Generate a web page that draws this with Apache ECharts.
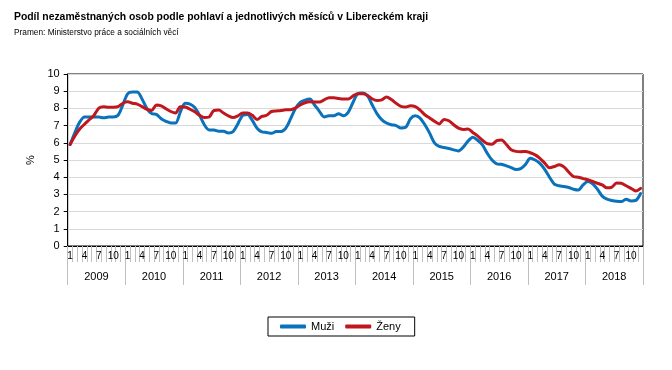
<!DOCTYPE html>
<html>
<head>
<meta charset="utf-8">
<script src="https://cdn.jsdelivr.net/npm/echarts@6/dist/echarts.min.js"></script>
<style>
html,body{margin:0;padding:0;background:#fff;}
#c{width:672px;height:370px;}
</style>
</head>
<body>
<div id="c"></div>
<script>
var titleText = 'Podíl nezaměstnaných osob podle pohlaví a jednotlivých měsíců v Libereckém kraji';
var subtitleText = 'Pramen: Ministerstvo práce a sociálních věcí';
var years = ['2009','2010','2011','2012','2013','2014','2015','2016','2017','2018'];
var months = ['1','2','3','4','5','6','7','8','9','10','11','12'];
var shownMonths = ['1','4','7','10'];
var yTicks = [0,1,2,3,4,5,6,7,8,9,10];
var seriesNames = ['Muži','Ženy'];

var muzi = [
  5.9, 6.6, 7.2, 7.5, 7.5, 7.5, 7.5, 7.45, 7.5, 7.5, 7.6, 8.2,
  8.85, 8.95, 8.95, 8.55, 8.0, 7.7, 7.65, 7.4, 7.25, 7.15, 7.15, 7.8,
  8.3, 8.25, 8.05, 7.6, 7.05, 6.75, 6.75, 6.67, 6.67, 6.57, 6.65, 7.1,
  7.6, 7.65, 7.3, 6.85, 6.63, 6.6, 6.55, 6.65, 6.65, 6.85, 7.4, 8.0,
  8.35, 8.48, 8.54, 8.2, 7.83, 7.5, 7.57, 7.57, 7.69, 7.57, 7.77, 8.34,
  8.85, 8.89, 8.74, 8.21, 7.7, 7.35, 7.15, 7.05, 7.0, 6.86, 6.9, 7.4,
  7.57, 7.44, 7.05, 6.56, 6.0, 5.79, 5.73, 5.67, 5.59, 5.53, 5.75, 6.1,
  6.32, 6.15, 5.88, 5.4, 5.0, 4.78, 4.75, 4.66, 4.56, 4.45, 4.5, 4.75,
  5.1, 5.0, 4.8, 4.45, 4.0, 3.6, 3.5, 3.46, 3.4, 3.3, 3.25, 3.55,
  3.75, 3.62, 3.3, 2.9, 2.72, 2.65, 2.6, 2.58, 2.72, 2.62, 2.65, 3.05
];
var zeny = [
  5.9, 6.4, 6.8, 7.08, 7.34, 7.6, 8.02, 8.1, 8.07, 8.07, 8.1, 8.3,
  8.38, 8.3, 8.25, 8.1, 7.95, 7.88, 8.2, 8.15, 7.98, 7.82, 7.73, 8.1,
  8.08, 7.95, 7.8, 7.6, 7.47, 7.5, 7.88, 7.9, 7.73, 7.57, 7.47, 7.57,
  7.73, 7.73, 7.6, 7.36, 7.53, 7.6, 7.82, 7.85, 7.88, 7.92, 7.92, 8.02,
  8.2, 8.33, 8.38, 8.37, 8.37, 8.5, 8.62, 8.62, 8.58, 8.54, 8.54, 8.72,
  8.85, 8.85, 8.76, 8.56, 8.46, 8.5, 8.66, 8.52, 8.3, 8.12, 8.08, 8.15,
  8.1, 7.9, 7.63, 7.44, 7.25, 7.1, 7.36, 7.28, 7.05, 6.85, 6.78, 6.8,
  6.6, 6.4, 6.15, 5.95, 5.92, 6.12, 6.17, 5.9, 5.6, 5.5, 5.48, 5.5,
  5.42, 5.3, 5.1, 4.82, 4.55, 4.62, 4.72, 4.6, 4.3, 4.04, 4.0, 3.92,
  3.85, 3.75, 3.65, 3.55, 3.38, 3.42, 3.67, 3.65, 3.5, 3.35, 3.2, 3.35
];

var categories = [];
years.forEach(function (y) {
  months.forEach(function (m) { categories.push(y + '-' + m); });
});

var FONT2 = "'Liberation Sans',Arial,sans-serif";
var chart = echarts.init(document.getElementById('c'), null, {renderer: 'canvas'});
chart.setOption({
  animation: false,
  backgroundColor: '#ffffff',
  graphic: [
    {type: 'text', left: 14, top: 12, silent: true,
     style: {text: titleText, fill: '#000', font: "bold 10.4px 'Liberation Sans',Arial,sans-serif"}},
    {type: 'text', left: 14, top: 28.5, silent: true,
     style: {text: subtitleText, fill: '#000', font: "8.3px 'Liberation Sans',Arial,sans-serif"}}
  ],
  legend: {
    data: seriesNames,
    left: 268, top: 317,
    padding: [4, 14, 4, 12],
    borderColor: '#000', borderWidth: 1,
    itemWidth: 26, itemHeight: 4, itemGap: 11,
    icon: 'roundRect',
    textStyle: {fontFamily: FONT2, fontSize: 11, color: '#000'}
  },
  grid: {left: 67.7, right: 29, top: 74, bottom: 124, show: true,
         borderColor: '#000', borderWidth: 1, backgroundColor: 'transparent'},
  xAxis: [
    {
      type: 'category', data: categories, position: 'bottom', boundaryGap: true,
      axisLine: {show: true, lineStyle: {color: '#000', width: 1}},
      axisTick: {show: true, interval: 0, length: 16, lineStyle: {color: '#bfbfbf'}},
      axisLabel: {
        interval: 0, margin: 5, fontFamily: FONT2, fontSize: 10, color: '#000',
        formatter: function (v) {
          var m = v.split('-')[1];
          return shownMonths.indexOf(m) >= 0 ? m : '';
        }
      },
      splitLine: {show: false}
    },
    {
      type: 'category', data: years, position: 'bottom', offset: 16, boundaryGap: true,
      axisLine: {show: false},
      axisTick: {show: true, interval: 0, length: 23, lineStyle: {color: '#bfbfbf'}},
      axisLabel: {interval: 0, margin: 9, fontFamily: FONT2, fontSize: 11, color: '#000'},
      splitLine: {show: false}
    }
  ],
  yAxis: {
    type: 'value', min: yTicks[0], max: yTicks[yTicks.length - 1], interval: 1,
    name: '%', nameLocation: 'middle', nameGap: 23, nameRotate: 90,
    nameTextStyle: {fontFamily: FONT2, fontSize: 11, color: '#000'},
    axisLine: {show: true, lineStyle: {color: '#000'}},
    axisTick: {show: true, length: 4, lineStyle: {color: '#000'}},
    axisLabel: {margin: 8, fontFamily: FONT2, fontSize: 11, color: '#000'},
    splitLine: {show: true, lineStyle: {color: '#d9d9d9', width: 1}}
  },
  series: [
    {name: seriesNames[0], type: 'line', data: muzi, xAxisIndex: 0, smooth: 0.3,
     symbol: 'none', color: '#0a72ba',
     lineStyle: {width: 3, color: '#0a72ba', cap: 'round', join: 'round'}},
    {name: seriesNames[1], type: 'line', data: zeny, xAxisIndex: 0, smooth: 0.3,
     symbol: 'none', color: '#c0171f',
     lineStyle: {width: 3, color: '#c0171f', cap: 'round', join: 'round'}}
  ]
});
</script>
</body>
</html>
